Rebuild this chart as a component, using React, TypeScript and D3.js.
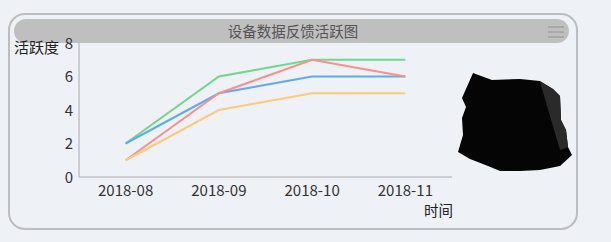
import React from "react";
import * as d3 from "d3";

const categories = ["2018-08", "2018-09", "2018-10", "2018-11"];
const seriesNames = ["A", "B", "C", "D"];
const greenValues = [2, 6, 7, 7];
const blueValues = [2, 5, 6, 6];
const redValues = [1, 5, 7, 6];
const orangeValues = [1, 4, 5, 5];
const yTicks = [0, 2, 4, 6, 8];
const title = "设备数据反馈活跃图";
const yName = "活跃度";
const xName = "时间";

const seriesValues = [greenValues, blueValues, redValues, orangeValues];
const colors = ["#72d78b", "#5eabee", "#f9918a", "#fdca78"];

const W = 611;
const H = 242;
const plot = { left: 79, right: 452, top: 43, bottom: 177 };
const FONT = "'Noto Sans CJK SC', 'Noto Sans', sans-serif";

export default function App() {
  const x = d3
    .scaleBand<string>()
    .domain(categories)
    .range([plot.left, plot.right]);
  const y = d3.scaleLinear().domain([0, 8]).range([plot.bottom, plot.top]);
  const line = d3
    .line<number>()
    .x((_, i) => (x(categories[i]) as number) + x.bandwidth() / 2)
    .y((d) => y(d));

  const blob =
    "M473,73 L492,80 L520,79 L540,81 L553,89 L560,96 L561,120 L566,130 L568,147 L572,155 L560,166 L540,170 L520,171 L500,171 L488,166 L470,159 L458,152 L463,135 L462,118 L466,107 L462,98 Z";

  return (
    <div style={{ position: "absolute", left: 0, top: 0 }}>
      <svg width={W} height={H} style={{ display: "block" }}>
        <rect x={0} y={0} width={W} height={H} fill="#eef1f6" />
        <rect
          x={9}
          y={14}
          width={568}
          height={215}
          rx={16}
          ry={16}
          fill="#eef1f6"
          stroke="#bcbdbf"
          strokeWidth={2}
        />
        <rect x={14} y={19} width={555} height={24} rx={12} ry={12} fill="#c0bfc0" />
        <text
          x={293}
          y={37}
          textAnchor="middle"
          fontFamily={FONT}
          fontSize={14.5}
          fill="#555"
        >
          {title}
        </text>
        {[0, 1, 2].map((i) => (
          <line
            key={i}
            x1={548}
            x2={564}
            y1={27 + i * 5}
            y2={27 + i * 5}
            stroke="#a9a9a9"
            strokeWidth={2}
          />
        ))}
        <line x1={plot.left} x2={plot.left} y1={plot.top} y2={plot.bottom} stroke="#aaa" strokeWidth={1} />
        <line x1={plot.left} x2={plot.right} y1={plot.bottom} y2={plot.bottom} stroke="#aaa" strokeWidth={1} />
        {yTicks.map((t) => (
          <text
            key={t}
            x={73}
            y={y(t) + 5.5}
            textAnchor="end"
            fontFamily={FONT}
            fontSize={15}
            fill="#333"
          >
            {t}
          </text>
        ))}
        <text x={14} y={53} fontFamily={FONT} fontSize={15} fill="#222">
          {yName}
        </text>
        {categories.map((c) => (
          <text
            key={c}
            x={(x(c) as number) + x.bandwidth() / 2}
            y={196}
            textAnchor="middle"
            fontFamily={FONT}
            fontSize={15}
            fill="#333"
          >
            {c}
          </text>
        ))}
        <text x={424} y={216} fontFamily={FONT} fontSize={14.5} fill="#222">
          {xName}
        </text>
        {seriesValues.map((vals, i) => (
          <path
            key={seriesNames[i]}
            d={line(vals) || ""}
            fill="none"
            stroke={colors[i]}
            strokeWidth={2}
          />
        ))}
        <path d={blob} fill="#050505" />
        <path d="M540,82 L553,89 L560,96 L561,120 L566,130 L568,147 L560,150 Z" fill="#2a2a2a" />
      </svg>
    </div>
  );
}
